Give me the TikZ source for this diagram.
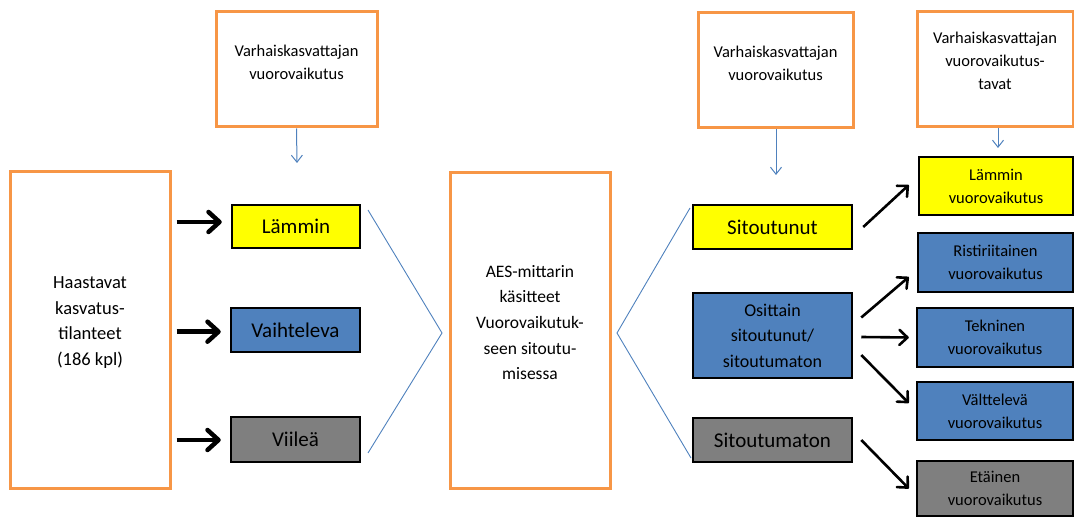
\documentclass[tikz,border=0pt]{standalone}
\usepackage{fontspec}
\setmainfont{Carlito}
\usetikzlibrary{arrows.meta}
\definecolor{orng}{HTML}{F79646}
\definecolor{bfill}{HTML}{4F81BD}
\definecolor{gfill}{HTML}{7F7F7F}
\definecolor{yfill}{HTML}{FFFF00}
\definecolor{bline}{HTML}{4F81BD}
\begin{document}
\begin{tikzpicture}[x=1pt,y=-1pt,
  obox/.style={draw=orng, line width=3pt, fill=white, inner sep=0pt},
  kbox/.style={draw=black, line width=2.5pt, inner sep=0pt, align=center},
  ybox/.style={kbox, fill=yfill},
  bbox/.style={kbox, fill=bfill},
  gbox/.style={kbox, fill=gfill},
  txts/.style={align=center, font=\fontsize{16.5}{23}\selectfont},
  txtm/.style={align=center, font=\fontsize{18}{25.5}\selectfont},
  txtl/.style={font=\fontsize{21}{25}\selectfont},
  barr/.style={line width=4.5pt, -{Straight Barb[length=11pt,width=20pt,line width=4.5pt,round]}},
  karr/.style={line width=2.6pt, -{Straight Barb[length=8pt,width=15pt,line width=2.6pt,round]}},
  blarr/.style={draw=bline, line width=1pt, -{Straight Barb[length=7pt,width=11pt,line width=1pt]}},
  chev/.style={draw=bline, line width=0.9pt}
]
\useasboundingbox (0,0) rectangle (1074,518);

% top orange boxes
\node[obox, minimum width=161pt, minimum height=115pt] (tl) at (296.5,69.5) {};
\node[txts] (tlt) at (296.5,62) {Varhaiskasvattajan\\vuorovaikutus};
\node[obox, minimum width=155pt, minimum height=115pt] (tra) at (775.5,70.5) {};
\node[txts] (trat) at (775.5,63.5) {Varhaiskasvattajan\\vuorovaikutus};
\node[obox, minimum width=156pt, minimum height=115pt] (trb) at (995,69.5) {};
\node[txts] (trbt) at (995,61) {Varhaiskasvattajan\\vuorovaikutus-\\tavat};

% tall orange boxes
\node[obox, minimum width=160pt, minimum height=316pt] (hb) at (90,330) {};
\node[txtm, font=\fontsize{18.5}{25.5}\selectfont] (hbt) at (90,322.5) {Haastavat\\kasvatus-\\tilanteet\\(186 kpl)};
\node[obox, minimum width=160pt, minimum height=315pt] (aes) at (530,330.5) {};
\node[txtm, font=\fontsize{17.5}{25.7}\selectfont] (aest) at (530,322.5) {AES-mittarin\\käsitteet\\Vuorovaikutuk-\\seen sitoutu-\\misessa};

% left coloured boxes
\node[ybox, minimum width=128pt, minimum height=43pt, txtl] (lam) at (296,226.5) {Lämmin};
\node[bbox, minimum width=129pt, minimum height=44pt, txtl] (vai) at (295.5,330) {Vaihteleva};
\node[gbox, minimum width=129pt, minimum height=45pt, txtl] (vii) at (295.5,439.5) {Viileä};

% middle-right coloured boxes
\node[ybox, minimum width=159pt, minimum height=44pt, txtl] (sit) at (772.5,227) {Sitoutunut};
\node[bbox, minimum width=159pt, minimum height=85pt, txtm] (osi) at (772.5,335.5) {Osittain\\sitoutunut/\\sitoutumaton};
\node[gbox, minimum width=159pt, minimum height=44pt, txtl] (sim) at (772.5,440) {Sitoutumaton};

% right coloured boxes
\node[ybox, minimum width=154pt, minimum height=58pt, txts] (lv) at (996,186) {Lämmin\\vuorovaikutus};
\node[bbox, minimum width=155pt, minimum height=59pt, txts] (ri) at (995.5,262.5) {Ristiriitainen\\vuorovaikutus};
\node[bbox, minimum width=156pt, minimum height=59pt, txts] (te) at (995,337.5) {Tekninen\\vuorovaikutus};
\node[bbox, minimum width=156pt, minimum height=58pt, txts] (va) at (995,411) {Välttelevä\\vuorovaikutus};
\node[gbox, minimum width=156pt, minimum height=55pt, txts] (et) at (995,488.5) {Etäinen\\vuorovaikutus};

% blue arrows from top boxes
\coordinate (tlend) at (297,163);
\coordinate (traend) at (776,175);
\coordinate (trbend) at (998,148);
\draw[blarr] (tl.south) -- (tlend);
\draw[blarr] (tra.south -| traend) -- (traend);
\draw[blarr] (trb.south -| trbend) -- (trbend);

% chevrons
\coordinate (cl1) at (368,210);
\coordinate (cl2) at (442,333);
\coordinate (cl3) at (368,453);
\draw[chev] (cl1) -- (cl2) -- (cl3);
\coordinate (cr1) at (690,208);
\coordinate (cr2) at (617,333);
\coordinate (cr3) at (691,458);
\draw[chev] (cr1) -- (cr2) -- (cr3);

% thick left arrows
\draw[barr] ([shift={(5,-4.5)}]hb.east |- lam.west) -- ([shift={(-9,-4.5)}]lam.west);
\draw[barr] ([shift={(5,1.7)}]hb.east |- vai.west) -- ([shift={(-9,1.7)}]vai.west);
\draw[barr] ([shift={(5,0.5)}]hb.east |- vii.west) -- ([shift={(-9,0.5)}]vii.west);

% right arrows
\draw[karr] ([shift={(10,0)}]sit.east) -- ([shift={(-9,-1)}]lv.west);
\draw[karr] ([shift={(8,-18)}]osi.east) -- ([shift={(-8,14.5)}]ri.west);
\draw[karr] ([shift={(8,1.5)}]osi.east) -- ([shift={(-7,0)}]te.west);
\draw[karr] ([shift={(8,19.5)}]osi.east) -- ([shift={(-7,-8)}]va.west);
\draw[karr] ([shift={(8,0)}]sim.east) -- ([shift={(-7,0)}]et.west);
\end{tikzpicture}
\end{document}
